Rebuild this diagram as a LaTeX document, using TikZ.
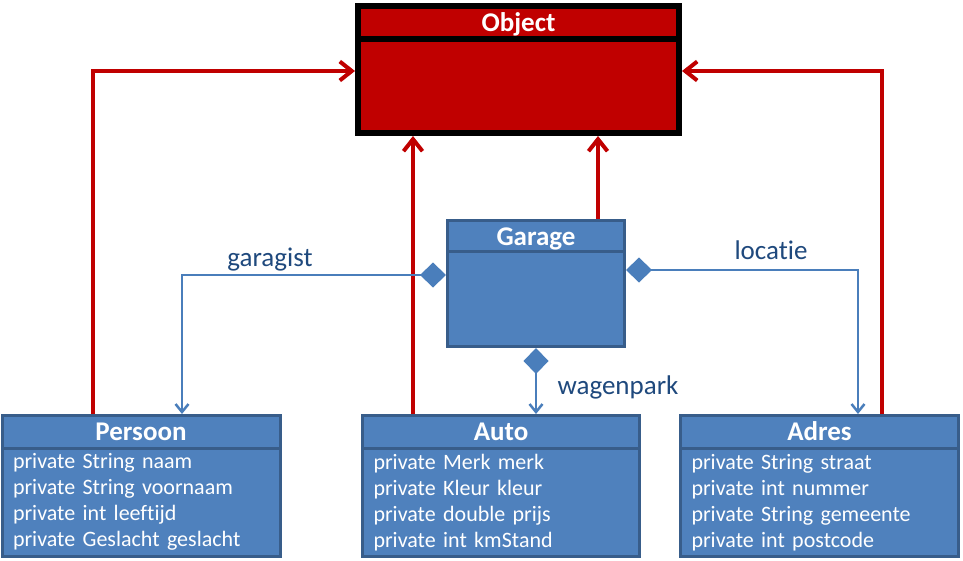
\documentclass[tikz,border=0pt]{standalone}
\usepackage{fontspec}
\setmainfont{Carlito}[Ligatures={TeX,NoCommon,NoContextual}]
\usepackage{tikz}
\usetikzlibrary{arrows.meta,positioning,calc}
\definecolor{objred}{RGB}{192,0,0}
\definecolor{clsblue}{RGB}{79,129,189}
\definecolor{clsedge}{RGB}{56,93,138}
\definecolor{linkblue}{RGB}{74,126,187}
\definecolor{lblblue}{RGB}{31,73,125}
\tikzset{
  classhead/.style={
    draw=clsedge,
    fill=clsblue,
    line width=3pt,
    text=white,
    inner sep=0pt,
    text height=18pt,
    text depth=0pt,
    font=\fontsize{27}{30}\selectfont\bfseries
  },
  classbody/.style={
    draw=clsedge,
    fill=clsblue,
    line width=3pt,
    text=white,
    inner sep=0pt,
    align=left,
    font=\fontsize{22}{26}\selectfont
  },
  objhead/.style={classhead, draw=black, fill=objred, line width=6pt},
  objbody/.style={classbody, draw=black, fill=objred, line width=6pt},
  inherit/.style={draw=objred, line width=4pt, -{Straight Barb[length=12pt,width=19pt]}},
  assoc/.style={draw=linkblue, line width=2.5pt, {Diamond[length=26pt,width=25pt]}-{Straight Barb[length=8pt,width=13pt]}},
  lbl/.style={text=lblblue, font=\fontsize{27}{30}\selectfont}
}

\begin{document}
\begin{tikzpicture}[x=1pt, y=-1pt]
        \path[use as bounding box, fill=white] (0,0) rectangle (963,561);
        \node[objhead, minimum width=321, minimum height=33] (objhead) at (518.5,22.5) {Object};
        \node[objbody, below=-6pt of objhead, minimum width=321, minimum height=94] (objbody) {};
        \node[classhead, minimum width=177, minimum height=31.5] (garagehead) at (536,236.25) {Garage};
        \node[classbody, below=-3pt of garagehead, minimum width=177, minimum height=94.5] (garagebody) {};
        \node[classhead, minimum width=278, minimum height=32.5] (persoonhead) at (141,431.75) {Persoon};
        \node[classbody, below=-3pt of persoonhead, minimum width=278, minimum height=108.5, text width=256] (persoonbody) {private String naam\\private String voornaam\\private int leeftijd\\private Geslacht geslacht};
        \node[classhead, minimum width=277, minimum height=32.5] (autohead) at (501,431.75) {Auto};
        \node[classbody, below=-3pt of autohead, minimum width=277, minimum height=108.5, text width=255] (autobody) {private Merk merk\\private Kleur kleur\\private double prijs\\private int kmStand};
        \node[classhead, minimum width=278, minimum height=32.5] (adreshead) at (819.5,431.75) {Adres};
        \node[classbody, below=-3pt of adreshead, minimum width=278, minimum height=108.5, text width=256] (adresbody) {private String straat\\private int nummer\\private String gemeente\\private int postcode};
        \coordinate (persoonup) at ([xshift=-48pt]persoonhead.north);
        \coordinate (autoup) at ([xshift=-88pt]autohead.north);
        \coordinate (garageup) at ([xshift=62pt]garagehead.north);
        \coordinate (adresup) at ([xshift=62.5pt]adreshead.north);
        \draw[inherit] (persoonup) |- ([yshift=15pt]objbody.west);
        \draw[inherit] (autoup) -- (autoup |- objbody.south);
        \draw[inherit] (garageup) -- (garageup |- objbody.south);
        \draw[inherit] (adresup) |- ([yshift=15pt]objbody.east);
        \draw[assoc] ([yshift=-24.5pt]garagebody.north west) -| ([xshift=41pt]persoonhead.north);
        \draw[assoc] ([yshift=-19.5pt]garagebody.north east) -| ([xshift=38.5pt]adreshead.north);
        \draw[assoc] (garagebody.south) -- (garagebody.south |- autohead.north);
        \node[lbl] (garagist) at (270,260) {garagist};
        \node[lbl] (locatie) at (771,250) {locatie};
        \node[lbl] (wagenpark) at (618,387) {wagenpark};
      \end{tikzpicture}
\end{document}
